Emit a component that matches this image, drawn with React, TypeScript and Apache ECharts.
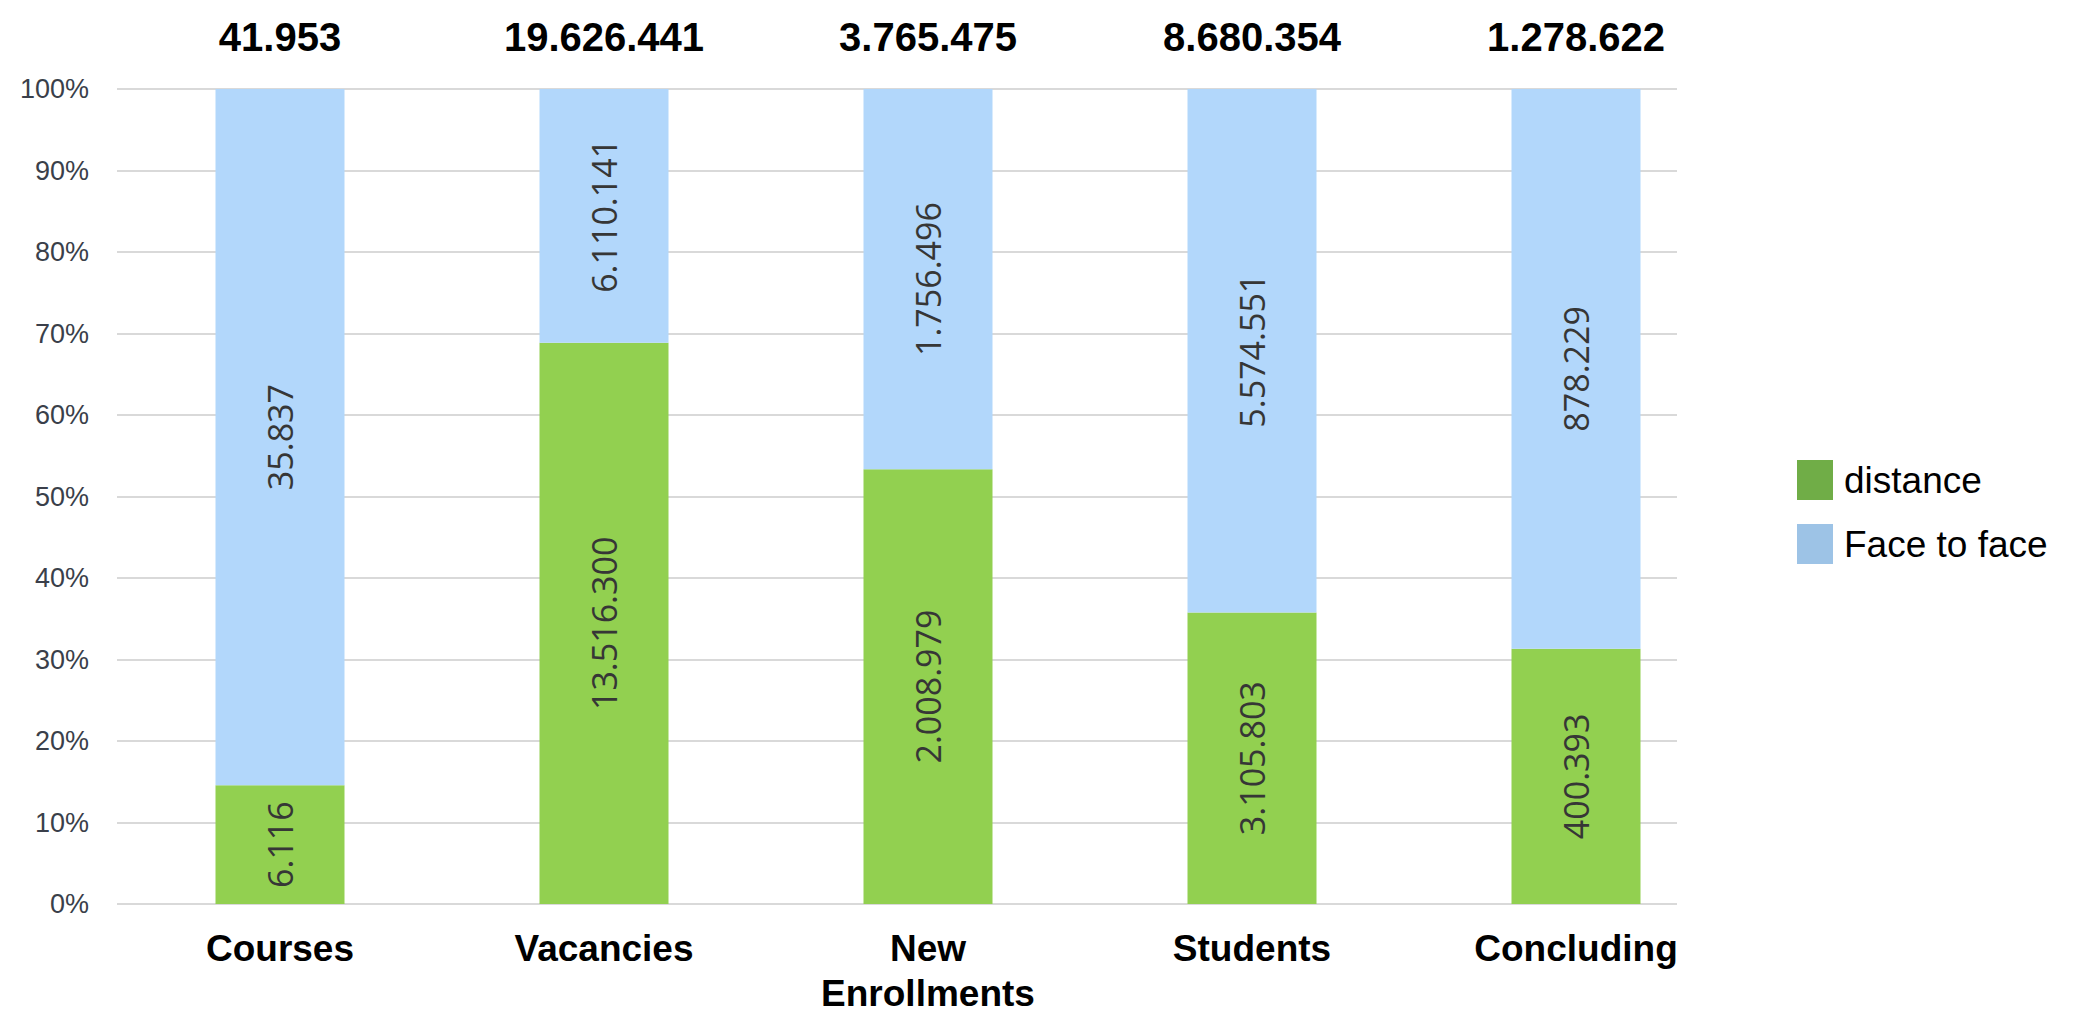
import React, { useEffect, useRef } from "react";
import * as echarts from "echarts";

const categories = ["Courses", "Vacancies", "New\nEnrollments", "Students", "Concluding"];
const distanceValues = [6116, 13516300, 2008979, 3105803, 400393];
const faceToFaceValues = [35837, 6110141, 1756496, 5574551, 878229];
const totals = [41953, 19626441, 3765475, 8680354, 1278622];
const yTicks = [0, 10, 20, 30, 40, 50, 60, 70, 80, 90, 100];

const fmt = (n: number) => String(n).replace(/\B(?=(\d{3})+(?!\d))/g, ".");

export default function App() {
  const ref = useRef<HTMLDivElement>(null);
  useEffect(() => {
    document.body.style.margin = "0";
    if (!ref.current) return;
    const chart = echarts.init(ref.current, null, { renderer: "svg" });
    const distPct = distanceValues.map((d, i) => (d / (d + faceToFaceValues[i])) * 100);
    const facePct = faceToFaceValues.map((f, i) => (f / (f + distanceValues[i])) * 100);
    const innerLabel = (arr: number[]) => ({
      show: true,
      position: "inside",
      rotate: 90,
      align: "center",
      verticalAlign: "middle",
      fontFamily: "Open Sans",
      fontSize: 34,
      color: "#363636",
      formatter: (p: any) => fmt(arr[p.dataIndex]),
    });
    chart.setOption({
      animation: false,
      backgroundColor: "#ffffff",
      grid: [
        { left: 117, top: 89, width: 1560, height: 815, outerBoundsMode: "none", containLabel: false },
        { left: 118, top: 89, width: 1620, height: 815, outerBoundsMode: "none", containLabel: false },
      ],
      xAxis: [
        { type: "value", gridIndex: 0, min: 0, max: 1, show: false },
        {
          type: "category",
          gridIndex: 1,
          data: categories,
          position: "bottom",
          axisLine: { show: false },
          axisTick: { show: false },
          axisLabel: {
            margin: 22,
            fontFamily: "Liberation Sans",
            fontWeight: "bold",
            fontSize: 37,
            lineHeight: 45,
            color: "#000000",
            verticalAlign: "top",
          },
        },
        {
          type: "category",
          gridIndex: 1,
          data: totals.map(fmt),
          position: "top",
          axisLine: { show: false },
          axisTick: { show: false },
          axisLabel: {
            margin: 32,
            fontFamily: "Liberation Sans",
            fontWeight: "bold",
            fontSize: 40,
            color: "#000000",
          },
        },
      ],
      yAxis: [
        {
          type: "value",
          gridIndex: 0,
          min: yTicks[0],
          max: yTicks[yTicks.length - 1],
          interval: 10,
          axisLine: { show: false },
          axisTick: { show: false },
          axisLabel: {
            formatter: "{value}%",
            fontFamily: "Liberation Sans",
            fontSize: 27,
            color: "#3a3f4a",
            margin: 28,
          },
          splitLine: { lineStyle: { color: "#d9d9d9", width: 2 } },
        },
        { type: "value", gridIndex: 1, min: 0, max: 100, show: false },
      ],
      legend: {
        orient: "vertical",
        left: 1792,
        top: 455,
        itemWidth: 36,
        itemHeight: 40,
        itemGap: 24,
        icon: "rect",
        textStyle: { fontFamily: "Liberation Sans", fontSize: 37, color: "#000000", padding: [0, 0, 0, 6] },
        data: [
          { name: "distance", itemStyle: { color: "#70AD47" } },
          { name: "Face to face", itemStyle: { color: "#9DC3E6" } },
        ],
      },
      series: [
        {
          name: "distance",
          type: "bar",
          xAxisIndex: 1,
          yAxisIndex: 1,
          stack: "total",
          barWidth: 129,
          data: distPct,
          itemStyle: { color: "#92D050" },
          label: innerLabel(distanceValues),
        },
        {
          name: "Face to face",
          type: "bar",
          xAxisIndex: 1,
          yAxisIndex: 1,
          stack: "total",
          barWidth: 129,
          data: facePct,
          itemStyle: { color: "#B2D7FB" },
          label: innerLabel(faceToFaceValues),
        },
      ],
    });
    return () => chart.dispose();
  }, []);
  return <div ref={ref} style={{ width: 2079, height: 1013 }} />;
}
